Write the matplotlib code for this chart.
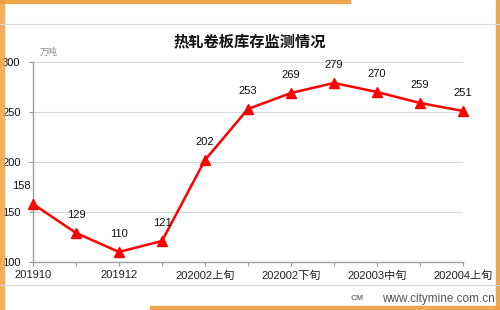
import matplotlib
matplotlib.use("Agg")
import matplotlib.pyplot as plt
from matplotlib.patches import Rectangle
from matplotlib.lines import Line2D

# hot-rolled coil inventory, 10k tonnes
periods = ["201910", "201911", "201912", "202001", "202002上旬", "202002中旬",
           "202002下旬", "202003上旬", "202003中旬", "202003下旬", "202004上旬"]
stock = [158, 129, 110, 121, 202, 253, 269, 279, 270, 259, 251]
yticks = [100, 150, 200, 250, 300]

fonts = ["Liberation Sans", "Noto Sans CJK SC", "DejaVu Sans"]
plt.rcParams["font.family"] = fonts

fig = plt.figure(figsize=(5, 3.1), dpi=100)
ax = fig.add_axes([0.066, 0.155, 0.86, 0.645])

x = list(range(len(periods)))
ax.plot(x, stock, color="#ff0000", lw=1.8, marker="^", ms=6.5,
        markerfacecolor="#ff0000", markeredgecolor="#ff0000", clip_on=False, zorder=3)
for i, v in enumerate(stock):
    dx = -0.26 if i == 0 else 0
    ax.annotate(str(v), (i + dx, v), xytext=(0, 9), textcoords="offset points",
                ha="center", va="bottom", fontsize=8, color="#111111",
                annotation_clip=False)

ax.set_xlim(0, len(periods) - 1)
ax.set_ylim(100, 300)
ax.set_yticks(yticks)
ax.set_yticklabels([str(t) for t in yticks], fontsize=8, color="#111111")
ax.set_xticks(x)
ax.set_xticklabels([p if i % 2 == 0 else "" for i, p in enumerate(periods)],
                   fontsize=8, color="#222222")
ax.tick_params(axis="x", length=3, color="#9a9a9a", pad=3)
ax.tick_params(axis="y", length=3, color="#9a9a9a", pad=6)
ax.grid(axis="y", color="#d9d9d9", lw=0.8)
ax.set_axisbelow(True)
for s in ["top", "right"]:
    ax.spines[s].set_visible(False)
for s in ["left", "bottom"]:
    ax.spines[s].set_color("#a0a0a0")
    ax.spines[s].set_linewidth(1.0)

fig.text(0.5, 0.865, "热轧卷板库存监测情况", ha="center", va="center",
         fontsize=11, fontweight="bold", color="#111111")
fig.text(0.08, 0.83, "万吨", ha="left", va="center", fontsize=6.5,
         color="#888888", style="italic")

# frame decorations
fig.add_artist(Line2D([0, 1], [1 - 24 / 310] * 2, color="#d8d8d8", lw=0.8))
fig.add_artist(Line2D([0, 1], [1 - 285 / 310] * 2, color="#d8d8d8", lw=0.8))
orange = "#f0a040"
fig.add_artist(Rectangle((0, 0.99), 0.7, 0.01, color=orange, alpha=0.9))
fig.add_artist(Rectangle((0, 0), 0.008, 1, color=orange, alpha=0.8))
fig.add_artist(Rectangle((0.992, 0), 0.008, 1, color=orange, alpha=0.9))
fig.add_artist(Rectangle((0.3, 0), 0.7, 0.012, color=orange, alpha=0.9))

fig.text(0.715, 1 - 299 / 310, "CM", ha="center", va="center", fontsize=6,
         fontweight="bold", color="#777777")
fig.text(0.99, 1 - 299 / 310, "www.citymine.com.cn", ha="right", va="center",
         fontsize=8.5, color="#555555")

fig.savefig("out.png", dpi=100)
